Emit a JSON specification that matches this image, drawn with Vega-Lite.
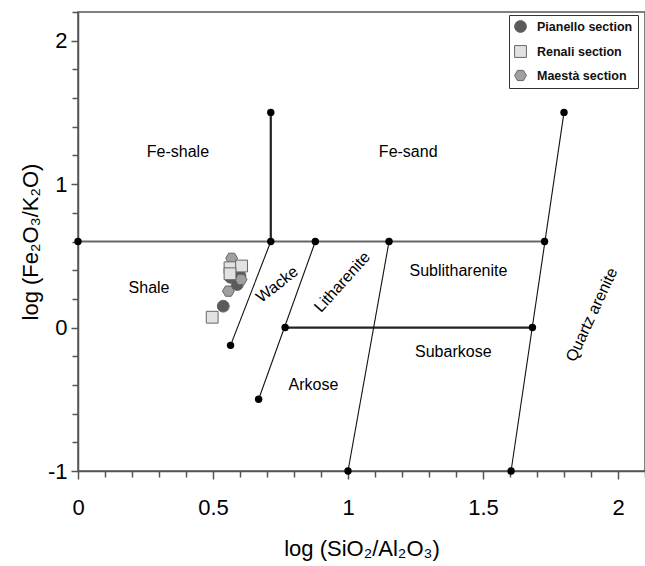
{
  "$schema": "https://vega.github.io/schema/vega-lite/v6.json",
  "width": 567,
  "height": 459,
  "autosize": {"type": "none"},
  "padding": {"left": 78, "top": 12, "right": 0, "bottom": 95},
  "background": "white",
  "config": {
    "font": "Liberation Sans",
    "view": {"stroke": "#555", "strokeWidth": 1.5},
    "axis": {
      "grid": false,
      "domainColor": "#555",
      "domainWidth": 1.5,
      "tickColor": "#555",
      "tickWidth": 1.5,
      "tickSize": 6,
      "labelColor": "#000",
      "labelFontSize": 22,
      "labelFont": "Liberation Sans",
      "titleFont": "Liberation Sans",
      "titleFontSize": 22,
      "titleFontWeight": "normal",
      "titleColor": "#000",
      "labelFlush": false
    }
  },
  "resolve": {"axis": {"x": "independent", "y": "independent"}},
  "datasets": {
    "segments": [
      {"seg": "h06", "kind": "gray", "x": 0, "y": 0.6},
      {"seg": "h06", "kind": "gray", "x": 1.728, "y": 0.6},
      {"seg": "vfe", "kind": "dark", "x": 0.714, "y": 0.6},
      {"seg": "vfe", "kind": "dark", "x": 0.714, "y": 1.5},
      {"seg": "h0", "kind": "dark", "x": 0.767, "y": 0},
      {"seg": "h0", "kind": "dark", "x": 1.683, "y": 0},
      {"seg": "wacke", "kind": "thin", "x": 0.565, "y": -0.124},
      {"seg": "wacke", "kind": "thin", "x": 0.714, "y": 0.6},
      {"seg": "lith", "kind": "thin", "x": 0.669, "y": -0.5},
      {"seg": "lith", "kind": "thin", "x": 0.879, "y": 0.6},
      {"seg": "sub", "kind": "thin", "x": 1.0, "y": -1},
      {"seg": "sub", "kind": "thin", "x": 1.152, "y": 0.6},
      {"seg": "qa", "kind": "thin", "x": 1.604, "y": -1},
      {"seg": "qa", "kind": "thin", "x": 1.8, "y": 1.5}
    ],
    "nodes": [
      {"x": 0, "y": 0.6},
      {"x": 0.714, "y": 0.6},
      {"x": 0.879, "y": 0.6},
      {"x": 1.152, "y": 0.6},
      {"x": 1.728, "y": 0.6},
      {"x": 0.714, "y": 1.5},
      {"x": 0.565, "y": -0.124},
      {"x": 0.669, "y": -0.5},
      {"x": 0.767, "y": 0},
      {"x": 1.683, "y": 0},
      {"x": 1.0, "y": -1},
      {"x": 1.604, "y": -1},
      {"x": 1.8, "y": 1.5}
    ],
    "labels": [
      {"name": "Fe-shale", "x": 0.37, "y": 1.222},
      {"name": "Fe-sand", "x": 1.223, "y": 1.222},
      {"name": "Shale", "x": 0.263, "y": 0.273},
      {"name": "Sublitharenite", "x": 1.409, "y": 0.394},
      {"name": "Subarkose", "x": 1.39, "y": -0.17},
      {"name": "Arkose", "x": 0.872, "y": -0.399},
      {"name": "Wacke", "x": 0.738, "y": 0.3},
      {"name": "Litharenite", "x": 0.979, "y": 0.317},
      {"name": "Quartz arenite", "x": 1.903, "y": 0.09}
    ],
    "samples": [
      {"section": "Maestà section", "x": 0.569, "y": 0.483},
      {"section": "Maestà section", "x": 0.557, "y": 0.254},
      {"section": "Pianello section", "x": 0.565, "y": 0.35},
      {"section": "Pianello section", "x": 0.6, "y": 0.36},
      {"section": "Pianello section", "x": 0.59, "y": 0.30},
      {"section": "Pianello section", "x": 0.538, "y": 0.149},
      {"section": "Maestà section", "x": 0.604, "y": 0.335},
      {"section": "Renali section", "x": 0.563, "y": 0.417},
      {"section": "Renali section", "x": 0.606, "y": 0.429},
      {"section": "Renali section", "x": 0.563, "y": 0.375},
      {"section": "Renali section", "x": 0.497, "y": 0.072}
    ]
  },
  "layer": [
    {
      "data": {"name": "segments"},
      "transform": [{"filter": "datum.kind == 'gray'"}],
      "mark": {"type": "line", "color": "#666", "strokeWidth": 1.8},
      "encoding": {
        "x": {
          "field": "x", "type": "quantitative",
          "scale": {"domain": [0, 2.1], "nice": false, "zero": false},
          "axis": {
            "orient": "bottom",
            "title": "log (SiO₂/Al₂O₃)",
            "values": [0, 0.5, 1, 1.5, 2],
            "labelExpr": "'' + datum.value",
            "tickSize": 8,
            "labelPadding": 18,
            "titleY": 77,
            "titleBaseline": "middle"
          }
        },
        "y": {
          "field": "y", "type": "quantitative",
          "scale": {"domain": [-1, 2.2], "nice": false, "zero": false},
          "axis": {
            "orient": "left",
            "title": "log (Fe₂O₃/K₂O)",
            "values": [-1, 0, 1, 2],
            "labelExpr": "'' + datum.value",
            "tickSize": 7,
            "labelPadding": 4,
            "titleX": -48,
            "titleBaseline": "middle"
          }
        },
        "detail": {"field": "seg"}
      }
    },
    {
      "data": {"name": "segments"},
      "transform": [{"filter": "datum.kind == 'dark'"}],
      "mark": {"type": "line", "color": "#222", "strokeWidth": 2.2},
      "encoding": {
        "x": {
          "field": "x", "type": "quantitative",
          "scale": {"domain": [0, 2.1], "nice": false, "zero": false},
          "axis": {
            "orient": "bottom",
            "title": null,
            "labels": false,
            "domain": false,
            "values": [0.1,0.2,0.3,0.4,0.6,0.7,0.8,0.9,1.1,1.2,1.3,1.4,1.6,1.7,1.8,1.9,2.1]
          }
        },
        "y": {
          "field": "y", "type": "quantitative",
          "scale": {"domain": [-1, 2.2], "nice": false, "zero": false},
          "axis": {
            "orient": "left",
            "title": null,
            "labels": false,
            "domain": false,
            "values": [-0.8,-0.6,-0.4,-0.2,0.2,0.4,0.6,0.8,1.2,1.4,1.6,1.8,2.2]
          }
        },
        "detail": {"field": "seg"}
      }
    },
    {
      "data": {"name": "segments"},
      "transform": [{"filter": "datum.kind == 'thin'"}],
      "mark": {"type": "line", "color": "#111", "strokeWidth": 1.1},
      "encoding": {
        "x": {"field": "x", "type": "quantitative", "axis": null},
        "y": {"field": "y", "type": "quantitative", "axis": null},
        "detail": {"field": "seg"}
      }
    },
    {
      "data": {"name": "nodes"},
      "mark": {"type": "point", "filled": true, "color": "#000", "size": 55, "opacity": 1},
      "encoding": {
        "x": {"field": "x", "type": "quantitative", "axis": null},
        "y": {"field": "y", "type": "quantitative", "axis": null}
      }
    },
    {
      "data": {"name": "labels"},
      "transform": [{"filter": "datum.name != 'Wacke' && datum.name != 'Litharenite' && datum.name != 'Quartz arenite'"}],
      "mark": {"type": "text", "fontSize": 16, "color": "#000", "align": "center", "baseline": "middle"},
      "encoding": {
        "x": {"field": "x", "type": "quantitative", "axis": null},
        "y": {"field": "y", "type": "quantitative", "axis": null},
        "text": {"field": "name"}
      }
    },
    {
      "data": {"name": "labels"},
      "transform": [{"filter": "datum.name == 'Wacke'"}],
      "mark": {"type": "text", "fontSize": 16, "color": "#000", "align": "center", "baseline": "middle", "angle": 322},
      "encoding": {
        "x": {"field": "x", "type": "quantitative", "axis": null},
        "y": {"field": "y", "type": "quantitative", "axis": null},
        "text": {"field": "name"}
      }
    },
    {
      "data": {"name": "labels"},
      "transform": [{"filter": "datum.name == 'Litharenite'"}],
      "mark": {"type": "text", "fontSize": 16, "color": "#000", "align": "center", "baseline": "middle", "angle": 312},
      "encoding": {
        "x": {"field": "x", "type": "quantitative", "axis": null},
        "y": {"field": "y", "type": "quantitative", "axis": null},
        "text": {"field": "name"}
      }
    },
    {
      "data": {"name": "labels"},
      "transform": [{"filter": "datum.name == 'Quartz arenite'"}],
      "mark": {"type": "text", "fontSize": 16, "color": "#000", "align": "center", "baseline": "middle", "angle": 295},
      "encoding": {
        "x": {"field": "x", "type": "quantitative", "axis": null},
        "y": {"field": "y", "type": "quantitative", "axis": null},
        "text": {"field": "name"}
      }
    },
    {
      "data": {"name": "samples"},
      "mark": {"type": "point", "filled": true, "opacity": 1, "stroke": "#666", "strokeWidth": 1, "size": 140},
      "encoding": {
        "x": {"field": "x", "type": "quantitative", "axis": null},
        "y": {"field": "y", "type": "quantitative", "axis": null},
        "color": {
          "field": "section", "type": "nominal",
          "scale": {"domain": ["Pianello section", "Renali section", "Maestà section"], "range": ["#5a5a5a", "#e2e2e2", "#a0a0a0"]},
          "legend": {
            "title": null,
            "orient": "none",
            "legendX": 431,
            "legendY": 3,
            "strokeColor": "#333",
            "fillColor": "white",
            "padding": 5,
            "rowPadding": 8,
            "labelFont": "Liberation Sans",
            "labelFontSize": 12.5,
            "labelFontWeight": "bold",
            "labelColor": "#111",
            "labelOffset": 10,
            "symbolSize": 140,
            "symbolStrokeColor": "#666",
            "symbolStrokeWidth": 1,
            "symbolOpacity": 1
          }
        },
        "shape": {
          "field": "section", "type": "nominal",
          "scale": {"domain": ["Pianello section", "Renali section", "Maestà section"], "range": ["circle", "square", "M-1,0L-0.5,-0.866L0.5,-0.866L1,0L0.5,0.866L-0.5,0.866Z"]}
        }
      }
    }
  ]
}
